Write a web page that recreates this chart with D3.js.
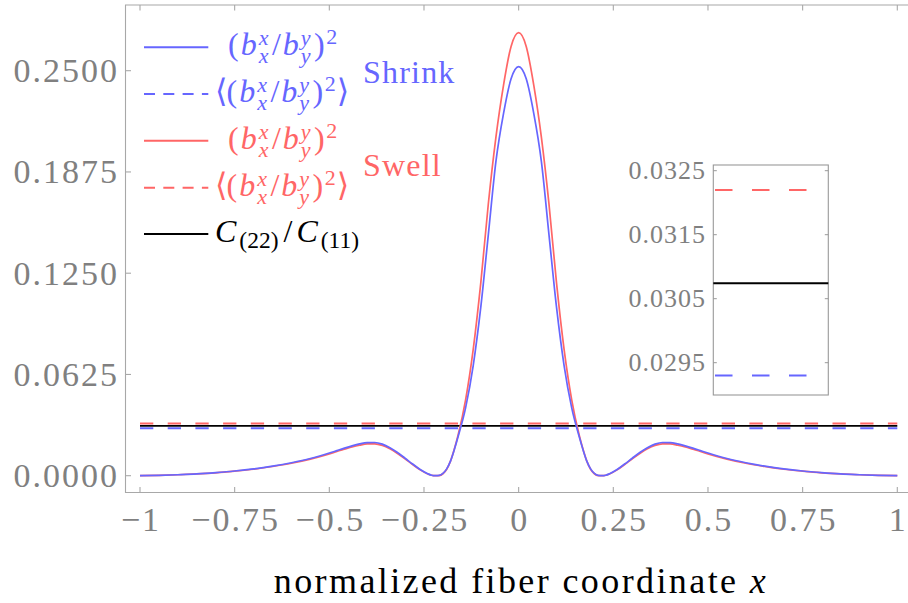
<!DOCTYPE html>
<html><head><meta charset="utf-8">
<script src="https://cdn.jsdelivr.net/npm/d3@7"></script>
<style>html,body{margin:0;padding:0;background:#fff;} svg{display:block;}</style>
</head><body><svg id="chart" width="908" height="603"></svg>
<script>
// ---------- data ----------
const xGrid = [-1, -0.95, -0.9, -0.85, -0.8, -0.75, -0.7, -0.65, -0.6, -0.55,
  -0.5, -0.48, -0.46, -0.44, -0.42, -0.4, -0.38, -0.36, -0.34, -0.32,
  -0.3, -0.28, -0.26, -0.24, -0.23, -0.22, -0.21, -0.2, -0.19, -0.18,
  -0.17, -0.16, -0.14, -0.12, -0.1, -0.08, -0.06, -0.04, -0.02, 0,
  0.02, 0.04, 0.06, 0.08, 0.1, 0.12, 0.14, 0.16, 0.17, 0.18,
  0.19, 0.2, 0.21, 0.22, 0.23, 0.24, 0.26, 0.28, 0.3, 0.32,
  0.34, 0.36, 0.38, 0.4, 0.42, 0.44, 0.46, 0.48, 0.5, 0.55,
  0.6, 0.65, 0.7, 0.75, 0.8, 0.85, 0.9, 0.95, 1];
const shrinkRatio = [0, 0.0002, 0.0006, 0.0011, 0.0019, 0.0029, 0.0042, 0.0059, 0.0080, 0.0106,
  0.0140, 0.0155, 0.0170, 0.0184, 0.0196, 0.0204, 0.0205, 0.0195, 0.0173, 0.0143,
  0.0108, 0.0072, 0.0038, 0.0012, 0.0003, 0, 0.0002, 0.0014, 0.0042, 0.0090,
  0.0160, 0.0240, 0.0420, 0.0680, 0.1040, 0.1490, 0.1940, 0.2235, 0.2450, 0.2525,
  0.2450, 0.2235, 0.1940, 0.1490, 0.1040, 0.0680, 0.0420, 0.0240, 0.0160, 0.0090,
  0.0042, 0.0014, 0.0002, 0, 0.0003, 0.0012, 0.0038, 0.0072, 0.0108, 0.0143,
  0.0173, 0.0195, 0.0205, 0.0204, 0.0196, 0.0184, 0.0170, 0.0155, 0.0140, 0.0106,
  0.0080, 0.0059, 0.0042, 0.0029, 0.0019, 0.0011, 0.0006, 0.0002, 0];
const swellRatio = [0, 0.0002, 0.0006, 0.0011, 0.0018, 0.0028, 0.0040, 0.0057, 0.0077, 0.0102,
  0.0134, 0.0149, 0.0163, 0.0177, 0.0188, 0.0196, 0.0197, 0.0187, 0.0166, 0.0137,
  0.0104, 0.0069, 0.0036, 0.0011, 0.0003, 0, 0.0001, 0.0012, 0.0040, 0.0090,
  0.0163, 0.0250, 0.0470, 0.0780, 0.1190, 0.1680, 0.2090, 0.2410, 0.2650, 0.2735,
  0.2650, 0.2410, 0.2090, 0.1680, 0.1190, 0.0780, 0.0470, 0.0250, 0.0163, 0.0090,
  0.0040, 0.0012, 0.0001, 0, 0.0003, 0.0011, 0.0036, 0.0069, 0.0104, 0.0137,
  0.0166, 0.0187, 0.0197, 0.0196, 0.0188, 0.0177, 0.0163, 0.0149, 0.0134, 0.0102,
  0.0077, 0.0057, 0.0040, 0.0028, 0.0018, 0.0011, 0.0006, 0.0002, 0];
const shrinkMean = 0.0293;
const swellMean = 0.0322;
const cRatio = 0.03074;

const xTicks = [-1, -0.75, -0.5, -0.25, 0, 0.25, 0.5, 0.75, 1];
const xTickLabels = ["\u22121", "\u22120.75", "\u22120.5", "\u22120.25", "0", "0.25", "0.5", "0.75", "1"];
const yTicks = [0, 0.0625, 0.125, 0.1875, 0.25];
const yTickLabels = ["0.0000", "0.0625", "0.1250", "0.1875", "0.2500"];
const insetTicks = [0.0295, 0.0305, 0.0315, 0.0325];
const insetTickLabels = ["0.0295", "0.0305", "0.0315", "0.0325"];
const xTitle = "normalized fiber coordinate ";
const groupLabels = ["Shrink", "Swell"];

// ---------- setup ----------
const FONT = '"Liberation Serif", serif';
const BLUE = "#6666ff", RED = "#ff6666", FRAME = "#a8a8a8", TICKTXT = "#808080";
const svg = d3.select("#chart");

const x = d3.scaleLinear().domain([-1, 1]).range([140, 897.3]);
const y = d3.scaleLinear().domain([0, 0.25]).range([475.7, 70.7]);
const frameL = 125.5, frameT = 5, frameB = 492.5, frameR = 912;

svg.append("path")
  .attr("d", `M${frameR},${frameT}H${frameL}V${frameB}H${frameR}`)
  .attr("fill", "none").attr("stroke", FRAME).attr("stroke-width", 1.1);

const tk = svg.append("g").attr("stroke", FRAME).attr("stroke-width", 1.1);
yTicks.forEach(v => tk.append("line").attr("x1", frameL).attr("x2", frameL + 5.5).attr("y1", y(v)).attr("y2", y(v)));
xTicks.forEach(v => {
  tk.append("line").attr("x1", x(v)).attr("x2", x(v)).attr("y1", frameB).attr("y2", frameB - 5.5);
  tk.append("line").attr("x1", x(v)).attr("x2", x(v)).attr("y1", frameT).attr("y2", frameT + 5.5);
});

function label(parent, tx, ty, s, size, fill, anchor, ls) {
  return parent.append("text").attr("x", tx).attr("y", ty).attr("text-anchor", anchor)
    .attr("fill", fill).style("font-family", FONT).style("font-size", size + "px")
    .style("letter-spacing", ls + "px").text(s);
}
yTicks.forEach((v, i) => label(svg, 119, y(v) + 11.3, yTickLabels[i], 34, TICKTXT, "end", 2));
xTicks.forEach((v, i) => label(svg, x(v) + 1, 531, xTickLabels[i], 34, TICKTXT, "middle", 2));

const tt = svg.append("text").attr("x", 521).attr("y", 593).attr("text-anchor", "middle")
  .style("font-family", FONT).style("font-size", "36px").style("letter-spacing", "2.4px").attr("fill", "#000");
tt.append("tspan").text(xTitle);
tt.append("tspan").style("font-style", "italic").text("x");

const hl = (val, color, dash, w) => svg.append("line")
  .attr("x1", x(-1)).attr("x2", x(1)).attr("y1", y(val)).attr("y2", y(val))
  .attr("stroke", color).attr("stroke-width", w).attr("stroke-dasharray", dash);
hl(swellMean, RED, "13.3,14.4", 2);
hl(shrinkMean, BLUE, "13.3,14.4", 2);
hl(cRatio, "#000", null, 1.7);

const line = d3.line().x((d, i) => x(xGrid[i])).y(d => y(d)).curve(d3.curveMonotoneX);
svg.append("path").datum(swellRatio).attr("d", line).attr("fill", "none").attr("stroke", RED).attr("stroke-width", 1.7);
svg.append("path").datum(shrinkRatio).attr("d", line).attr("fill", "none").attr("stroke", BLUE).attr("stroke-width", 1.7);

// ---------- inset ----------
const iy = d3.scaleLinear().domain([0.0295, 0.0325]).range([362.7, 170.7]);
const ix = d3.scaleLinear().domain([-1, 1]).range([715, 826]);
const inL = 713.3, inR = 828.3, inT = 165, inB = 395;
svg.append("rect").attr("x", inL).attr("y", inT).attr("width", inR - inL).attr("height", inB - inT)
  .attr("fill", "#fff").attr("stroke", "#999").attr("stroke-width", 1.1);
const itk = svg.append("g").attr("stroke", "#999").attr("stroke-width", 1);
insetTicks.forEach(v => {
  itk.append("line").attr("x1", inL).attr("x2", inL + 3.5).attr("y1", iy(v)).attr("y2", iy(v));
  itk.append("line").attr("x1", inR).attr("x2", inR - 3.5).attr("y1", iy(v)).attr("y2", iy(v));
});
insetTicks.forEach((v, i) => label(svg, 706, iy(v) + 8.6, insetTickLabels[i], 26, TICKTXT, "end", 1));
svg.append("line").attr("x1", ix(-1)).attr("x2", ix(1)).attr("y1", iy(swellMean)).attr("y2", iy(swellMean))
  .attr("stroke", RED).attr("stroke-width", 2).attr("stroke-dasharray", "17.5,19.5");
svg.append("line").attr("x1", inL).attr("x2", inR).attr("y1", iy(cRatio)).attr("y2", iy(cRatio))
  .attr("stroke", "#000").attr("stroke-width", 2);
svg.append("line").attr("x1", ix(-1)).attr("x2", ix(1)).attr("y1", iy(shrinkMean)).attr("y2", iy(shrinkMean))
  .attr("stroke", BLUE).attr("stroke-width", 2).attr("stroke-dasharray", "17.5,19.5");

// ---------- legend ----------
const lg = svg.append("g");
function drawMath(x0, base, tokens, color, size, ssize) {
  const txt = lg.append("text").attr("fill", color).style("font-family", FONT);
  let cx = x0;
  const piece = (s, px, py, fs, it, fam) => {
    const t = txt.append("tspan").attr("x", px).attr("y", py)
      .style("font-family", fam || FONT)
      .style("font-size", fs + "px").style("font-style", it ? "italic" : "normal").text(s);
    return t.node().getComputedTextLength();
  };
  tokens.forEach(tok => {
    cx += tok.pre || 0;
    if (tok.t) cx += piece(tok.t, cx, base, tok.size || size, tok.i, tok.fam) + (tok.gap || 0);
    let w = 0;
    if (tok.sup) w = Math.max(w, piece(tok.sup, cx, base - (tok.supShift || 10), ssize, tok.supI));
    if (tok.sub) w = Math.max(w, piece(tok.sub, cx, base + (tok.subShift || 8), ssize, tok.subI));
    if (w) cx += w + (tok.sgap == null ? 2 : tok.sgap);
  });
  return cx;
}
const ANGLE = '"DejaVu Sans", serif';
const ratioTokens = (bracket) => [
  ...(bracket ? [{ t: "\u27E8", gap: -1, fam: ANGLE, size: 32 }] : []),
  { t: "(", gap: 2 },
  { t: "b", i: true, gap: 2, sup: "x", supI: true, sub: "x", subI: true, sgap: 3.5 },
  { t: "/", gap: 2 },
  { t: "b", i: true, gap: 2, sup: "y", supI: true, sub: "y", subI: true, sgap: 3.5 },
  { t: ")", gap: 1.5, sup: "2", supShift: 11, sgap: bracket ? 1 : 2 },
  ...(bracket ? [{ t: "\u27E9", fam: ANGLE, size: 32 }] : [])
];
const legendRows = [
  { yl: 47.3, color: BLUE, dash: null, x0: 228, ss: 22, toks: ratioTokens(false) },
  { yl: 94, color: BLUE, dash: "11,8.3", x0: 215, ss: 22, toks: ratioTokens(true) },
  { yl: 140.7, color: RED, dash: null, x0: 228, ss: 22, toks: ratioTokens(false) },
  { yl: 187.7, color: RED, dash: "11,8.3", x0: 215, ss: 22, toks: ratioTokens(true) },
  { yl: 234, color: "#000", dash: null, x0: 215, ss: 23.5, toks: [
      { t: "C", i: true, gap: 3, sub: "(22)", subShift: 6, sgap: 5 },
      { t: "/", gap: 4 },
      { t: "C", i: true, gap: 3, sub: "(11)", subShift: 6 } ] }
];
legendRows.forEach(r => {
  lg.append("line").attr("x1", 144).attr("x2", 208.3).attr("y1", r.yl).attr("y2", r.yl)
    .attr("stroke", r.color).attr("stroke-width", 2).attr("stroke-dasharray", r.dash);
  drawMath(r.x0, r.yl + 8, r.toks, r.color, 32, r.ss);
});
label(lg, 363, 82.5, groupLabels[0], 32, BLUE, "start", 1.2);
label(lg, 363, 175.5, groupLabels[1], 32, RED, "start", 1.2);
</script></body></html>
